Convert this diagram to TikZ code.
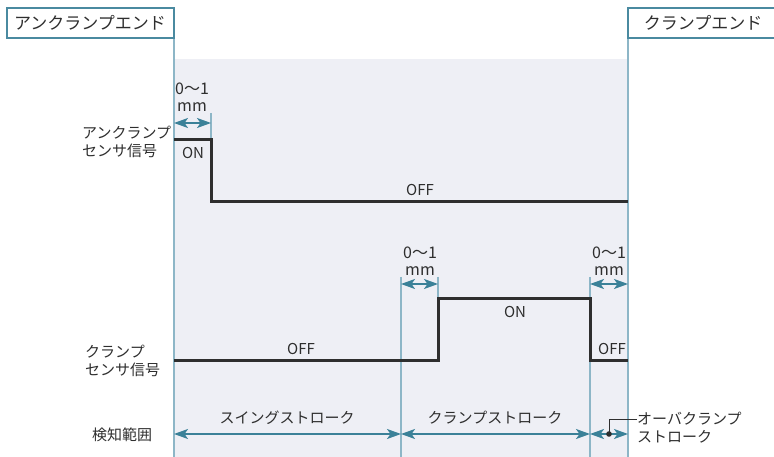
\documentclass[tikz,border=0pt]{standalone}
\usepackage{fontspec}
\setmainfont{Noto Sans CJK JP}
\usetikzlibrary{arrows.meta}
\definecolor{bgshade}{HTML}{EEEFF5}
\definecolor{vline}{HTML}{8DB6C7}
\definecolor{dimc}{HTML}{3B8198}
\definecolor{boxc}{HTML}{4A8AA0}
\definecolor{txt}{HTML}{2E2E2E}
\tikzset{
  guide/.style={draw=vline, line width=1.5pt},
  sig/.style={draw=txt, line width=3pt, line join=miter},
  dim/.style={draw=dimc, line width=1.5pt, {Stealth[length=14pt,width=10pt,inset=3.5pt]}-{Stealth[length=14pt,width=10pt,inset=3.5pt]}},
  lbl/.style={text=txt, font=\fontsize{15}{18}\selectfont, inner sep=0pt},
  numlbl/.style={text=txt, font=\fontsize{16}{17}\selectfont, inner sep=0pt, align=center},
  boxlbl/.style={text=txt, font=\fontsize{17}{20}\selectfont, inner sep=0pt},
  side/.style={lbl, align=left, anchor=west},
}
\begin{document}
\begin{tikzpicture}[x=1pt,y=-1pt]
\useasboundingbox (0,0) rectangle (774,457);
% shaded area
\fill[bgshade] (174,59) rectangle (628,457);
% coordinates
\coordinate (Ltop) at (174,8);
\coordinate (Lbot) at (174,457);
\coordinate (Rtop) at (628,8);
\coordinate (Rbot) at (628,457);
\coordinate (t1a) at (211,113);
\coordinate (t1b) at (211,140);
\coordinate (t2a) at (401,277);
\coordinate (t2b) at (401,457);
\coordinate (t3a) at (438,277);
\coordinate (t3b) at (438,298);
\coordinate (t4a) at (590,277);
\coordinate (t4b) at (590,457);
% guide lines
\draw[guide] (t1a) -- (t1b);
\draw[guide] (t2a) -- (t2b);
\draw[guide] (t3a) -- (t3b);
\draw[guide] (t4a) -- (t4b);
\draw[guide] (Ltop) -- (Lbot);
\draw[guide] (Rtop) -- (Rbot);
% boxes
\draw[boxc, line width=1.5pt] (7,8) rectangle (174,38);
\draw[boxc, line width=1.5pt] (774,8) -- (628,8) -- (628,38) -- (774,38);
\node[boxlbl] (lend) at (90,23) {アンクランプエンド};
\node[boxlbl] (rend) at (703,23) {クランプエンド};
% unclamp signal
\coordinate (u0) at (174,140);
\coordinate (u1) at (211,140);
\coordinate (u2) at (211,202);
\coordinate (u3) at (628,202);
\draw[sig] (u0) -- (u1) -- (u2) -- (u3);
\node[lbl] (uon) at (193,153) {ON};
\node[lbl] (uoff) at (420,190) {OFF};
% clamp signal
\coordinate (c0) at (174,360);
\coordinate (c1) at (438,360);
\coordinate (c2) at (438,298);
\coordinate (c3) at (590,298);
\coordinate (c4) at (590,360);
\coordinate (c5) at (628,360);
\draw[sig] (c0) -- (c1) -- (c2) -- (c3) -- (c4) -- (c5);
\node[lbl] (coff1) at (301,349) {OFF};
\node[lbl] (con) at (515,312) {ON};
\node[lbl] (coff2) at (612,349) {OFF};
% small dimensions
\coordinate (d1a) at (174,123);
\coordinate (d1b) at (211,123);
\draw[dim] (d1a) -- (d1b);
\node[numlbl] (m1) at (192,97) {0〜1\\mm};
\coordinate (d2a) at (401,284);
\coordinate (d2b) at (438,284);
\draw[dim] (d2a) -- (d2b);
\node[numlbl] (m2) at (420,261) {0〜1\\mm};
\coordinate (d3a) at (590,284);
\coordinate (d3b) at (628,284);
\draw[dim] (d3a) -- (d3b);
\node[numlbl] (m3) at (609,261) {0〜1\\mm};
% detection range
\coordinate (s0) at (174,434);
\coordinate (s1) at (401,434);
\coordinate (s2) at (590,434);
\coordinate (s3) at (628,434);
\draw[dim] (s0) -- (s1);
\draw[dim] (s1) -- (s2);
\draw[dim] (s2) -- (s3);
\node[lbl] (swing) at (287,418) {スイングストローク};
\node[lbl] (cstroke) at (495,418) {クランプストローク};
\coordinate (dot) at (609,434);
\fill[txt] (dot) circle (2.8pt);
\node[side] (over) at (637,428) {オーバクランプ\\ストローク};
\draw[txt, line width=1pt] (dot) |- (over.west |- 0,419);
% side labels
\node[side] (ulab) at (82,142) {アンクランプ\\センサ信号};
\node[side] (clab) at (85,361) {クランプ\\センサ信号};
\node[side] (klab) at (92,435) {検知範囲};
\end{tikzpicture}
\end{document}
